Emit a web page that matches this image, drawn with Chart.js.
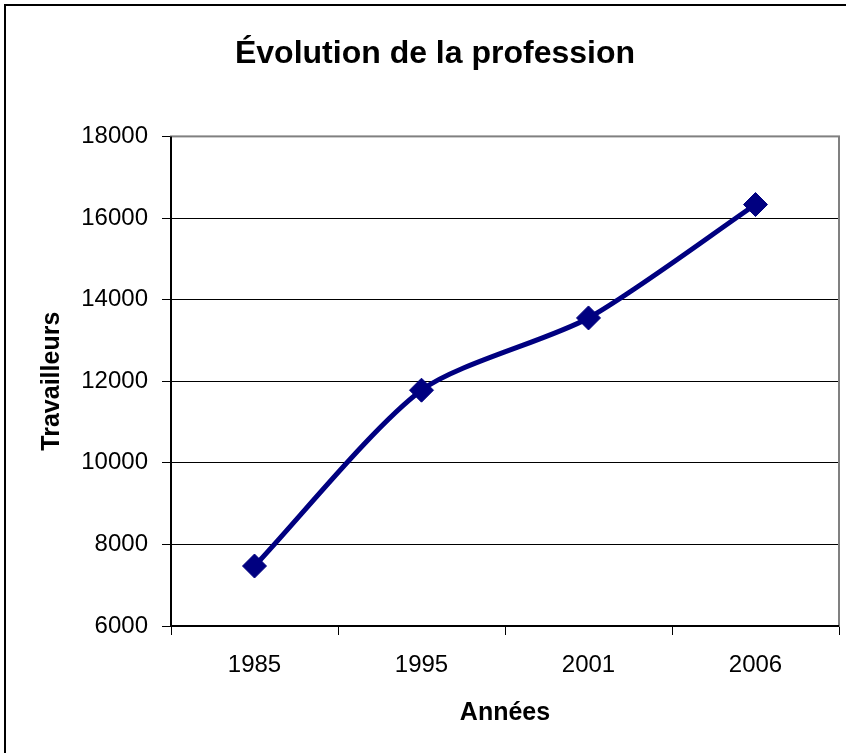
<!DOCTYPE html>
<html>
<head>
<meta charset="utf-8">
<script src="https://cdn.jsdelivr.net/npm/chart.js@4"></script>
<style>
  body { margin: 0; background: #fff; }
  #wrap { width: 846px; height: 753px; }
</style>
</head>
<body>
<div id="wrap"><canvas id="lineChart" width="846" height="753"></canvas></div>
<script>
const years = ['1985', '1995', '2001', '2006'];
const workers = [7470, 11780, 13550, 16330];
const yMin = 6000, yMax = 18000, yStep = 2000;

const font = "'Liberation Sans', Arial, sans-serif";

// frame around the whole chart + grey plot-area border (Excel look)
const frames = {
  id: 'frames',
  beforeDraw(chart) {
    const ctx = chart.ctx;
    ctx.save();
    ctx.fillStyle = '#fff';
    ctx.fillRect(0, 0, chart.width, chart.height);
    ctx.strokeStyle = '#000';
    ctx.lineWidth = 2;
    ctx.strokeRect(5, 5, 1000, 1000);
    ctx.restore();
  },
  beforeDatasetsDraw(chart) {
    const a = chart.chartArea, ctx = chart.ctx;
    ctx.save();
    ctx.strokeStyle = '#808080';
    ctx.lineWidth = 2;
    ctx.strokeRect(a.left, a.top, a.right - a.left, a.bottom - a.top);
    ctx.strokeStyle = '#000';
    ctx.lineWidth = 2;
    ctx.beginPath();
    ctx.moveTo(a.left, a.top);
    ctx.lineTo(a.left, a.bottom);
    ctx.lineTo(a.right, a.bottom);
    ctx.stroke();
    ctx.restore();
  }
};

new Chart('lineChart', {
  type: 'line',
  data: {
    labels: years,
    datasets: [{
      label: 'Travailleurs',
      data: workers,
      borderColor: '#000080',
      backgroundColor: '#000080',
      borderWidth: 5,
      tension: 0.25,
      pointStyle: 'rectRot',
      pointRadius: 12,
      pointBorderWidth: 1,
      pointBorderColor: '#000080',
      pointBackgroundColor: '#000080'
    }]
  },
  options: {
    responsive: false,
    animation: false,
    layout: { autoPadding: false, padding: { left: 31, right: 7, top: 0, bottom: 0 } },
    plugins: {
      legend: { display: false },
      tooltip: { enabled: false },
      title: {
        display: true,
        text: 'Évolution de la profession',
        color: '#000',
        font: { family: font, size: 32, weight: 'bold' },
        padding: { top: 35, bottom: 63 }
      }
    },
    scales: {
      x: {
        offset: true,
        grid: { display: true, drawOnChartArea: false, offset: true, color: '#000', tickLength: 9 },
        border: { display: false },
        ticks: { color: '#000', padding: 16, font: { family: font, size: 24 } },
        title: {
          display: true, text: 'Années', color: '#000',
          font: { family: font, size: 25, weight: 'bold' },
          padding: { top: 0, bottom: 25 }
        },
        afterFit(scale) { scale.height = 127; }
      },
      y: {
        min: yMin, max: yMax,
        grid: {
          color: ctx => (ctx.tick && ctx.tick.value === yMax) ? '#808080' : '#000',
          tickColor: '#000',
          tickLength: 9
        },
        border: { display: false },
        ticks: {
          stepSize: yStep, color: '#000', padding: 14,
          font: { family: font, size: 24 },
          callback: v => String(v)
        },
        title: {
          display: true, text: 'Travailleurs', color: '#000',
          font: { family: font, size: 25, weight: 'bold' },
          padding: { top: 6, bottom: 0 }
        },
        afterFit(scale) { scale.width = 140; }
      }
    }
  },
  plugins: [frames]
});
</script>
</body>
</html>
